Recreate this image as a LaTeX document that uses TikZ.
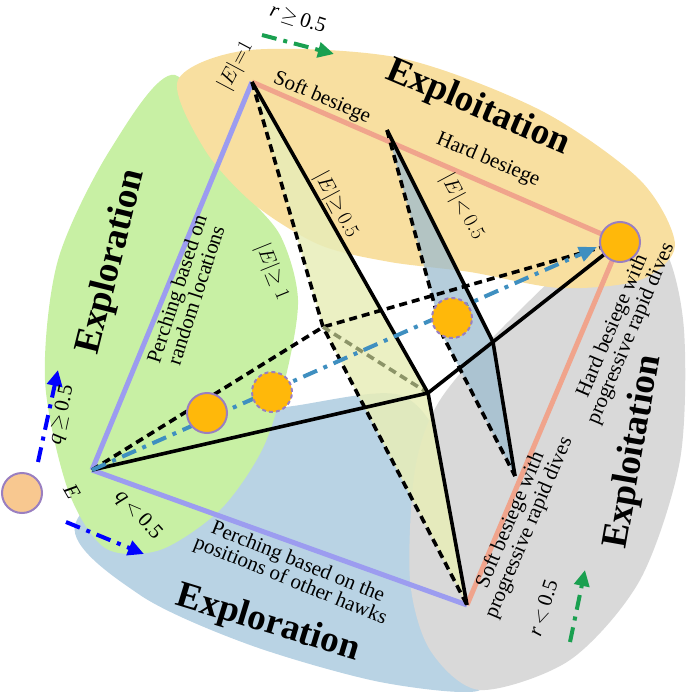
\documentclass[tikz,border=0pt]{standalone}
\usepackage{fontspec}
\setmainfont{Liberation Serif}
\usetikzlibrary{arrows.meta}
\definecolor{cgreen}{HTML}{C8F0A4}
\definecolor{cyellow}{HTML}{F8DFA0}
\definecolor{cgray}{HTML}{D9D9D9}
\definecolor{cblue}{HTML}{B9D3E4}
\definecolor{cplane}{HTML}{E8EDB8}
\definecolor{cplaneb}{HTML}{9CBCCF}
\definecolor{lav}{HTML}{9C9CF0}
\definecolor{salmon}{HTML}{F0A48C}
\definecolor{orng}{HTML}{FFB80A}
\definecolor{purp}{HTML}{9A7FC0}
\definecolor{teal}{HTML}{3F8FC0}
\definecolor{garrow}{HTML}{1AA050}
\definecolor{olive}{HTML}{8C9468}
\definecolor{peach}{HTML}{F8C890}
\tikzset{
 lbl/.style={font=\fontsize{21}{20}\selectfont, align=center, inner sep=1pt},
 big/.style={font=\fontsize{37}{38}\selectfont\bfseries, inner sep=1pt},
 solidl/.style={line width=3.6pt, black},
 dashl/.style={line width=3.6pt, black, dash pattern=on 8pt off 5pt},
 dot/.style={circle, fill=orng, draw=purp, line width=2pt, minimum size=40pt, inner sep=0pt},
 dotd/.style={dot, dash pattern=on 4pt off 3pt},
 darrow/.style={line width=4pt, dash pattern=on 15pt off 7pt on 4pt off 7pt, -{Triangle[length=16pt,width=15pt]}},
}
\begin{document}
\begin{tikzpicture}[x=1pt,y=-1pt]
\useasboundingbox (0,0) rectangle (685,692);
% backgrounds
\fill[cblue] plot[smooth cycle] coordinates {(75,525) (180,430) (300,405) (400,395) (440,450) (420,560) (440,640) (480,690) (380,682) (250,645) (140,595)};
\fill[cgray] plot[smooth cycle] coordinates {(620,222) (665,250) (684,330) (680,460) (640,580) (570,660) (480,690) (430,650) (410,580) (415,470) (440,400) (510,320)};
\fill[cgreen] plot[smooth cycle] coordinates {(175,75) (110,150) (58,260) (45,380) (68,490) (105,548) (160,550) (220,510) (262,450) (285,380) (298,300) (280,235) (235,180)};
\fill[cyellow] plot[smooth cycle] coordinates {(178,80) (250,50) (400,58) (540,110) (640,180) (675,245) (640,280) (560,288) (470,272) (390,262) (320,245) (255,205) (205,150)};
% key points
\coordinate (A) at (252,82);
\coordinate (B) at (620,242);
\coordinate (C) at (467,605);
\coordinate (D) at (92,470);
\coordinate (P) at (428,393);
\coordinate (Q) at (323,327);
\coordinate (M) at (387,130);
\coordinate (R) at (443,336);
\coordinate (S) at (493,342);
\coordinate (T) at (515,476);
% planes
\fill[cplane, opacity=0.85] (A) -- (Q) -- (C) -- (P) -- cycle;
\fill[cplaneb, opacity=0.75] (M) -- (R) -- (T) -- (S) -- cycle;
% outer edges
\draw[lav, line width=5pt] (D) -- (A);
\draw[lav, line width=5pt] (D) -- (C);
\draw[salmon, line width=5pt] (A) -- (B);
\draw[salmon, line width=5pt] (B) -- (C);
% inner lines
\draw[dashl] (A) -- (Q) -- (C);
\draw[dashl] (D) -- (Q) -- (B);
\draw[dashl] (M) -- (R) -- (T);
\draw[olive, line width=3.6pt, dash pattern=on 8pt off 5pt] (Q) -- (P);
\draw[solidl] (A) -- (P) -- (C);
\draw[solidl] (D) -- (P) -- (B);
\draw[solidl] (M) -- (S) -- (T);
% teal arrow
\coordinate (tip) at (597,247);
\draw[teal, line width=4pt, dash pattern=on 15pt off 7pt on 4pt off 7pt, -{Triangle[length=18pt,width=15pt]}] (D) -- (tip);
% dots
\node[dot] (d1) at (207,413) {};
\node[dotd] (d2) at (272,392) {};
\node[dotd] (d3) at (452,318) {};
\node[dot] (d4) at (B) {};
\node[circle, fill=peach, draw=purp, line width=2pt, minimum size=40pt] (d0) at (22,493) {};
% arrows
\coordinate (a1s) at (38,462); \coordinate (a1e) at (58,370);
\draw[darrow, blue] (a1s) -- (a1e);
\coordinate (a2s) at (66,522); \coordinate (a2e) at (144,554);
\draw[darrow, blue] (a2s) -- (a2e);
\coordinate (a3s) at (262,35); \coordinate (a3e) at (334,54);
\draw[darrow, garrow] (a3s) -- (a3e);
\coordinate (a4s) at (570,642); \coordinate (a4e) at (585,570);
\draw[darrow, garrow] (a4s) -- (a4e);
% labels
\node[lbl, rotate=-18] (t1) at (298,19) {\textit{r}$\,\geq$\,0.5};
\node[lbl, rotate=72] (t3) at (543,608) {\textit{r}$\,<$\,0.5};
\node[lbl, rotate=62] (t4) at (236,66) {$|E|{=}1$};
\node[lbl, rotate=-23] (t5) at (322,98) {Soft besiege};
\node[lbl, rotate=-23] (t6) at (488,160) {Hard besiege};
\node[big, rotate=-23] (t7) at (478,108) {Exploitation};
\node[lbl, rotate=-62] (t8) at (336,205) {$|E|{\geq}\,0.5$};
\node[lbl, rotate=-62] (t9) at (462,207) {$|E|{<}\,0.5$};
\node[lbl, rotate=-68] (t10) at (272,272) {$|E|{\geq}\;1$};
\node[lbl, rotate=72] (t11) at (186,292) {Perching based on\\random locations};
\node[big, rotate=76] (t12) at (112,262) {Exploration};
\node[lbl, rotate=78] (t13) at (62,415) {\textit{q}$\,\geq$\,0.5};
\node[lbl, rotate=-60] (t14) at (72,492) {\textit{E}};
\node[lbl, rotate=-48] (t15) at (138,515) {\textit{q}$\,<$\,0.5};
\node[lbl, rotate=-22] (t16) at (294,572) {Perching based on the\\positions of other hawks};
\node[big, rotate=-17] (t17) at (268,624) {Exploration};
\node[lbl, rotate=67] (t18) at (520,524) {Soft besiege with\\progressive rapid dives};
\node[lbl, rotate=67] (t19) at (622,330) {Hard besiege with\\progressive rapid dives};
\node[big, rotate=80] (t20) at (634,452) {Exploitation};
\end{tikzpicture}
\end{document}
